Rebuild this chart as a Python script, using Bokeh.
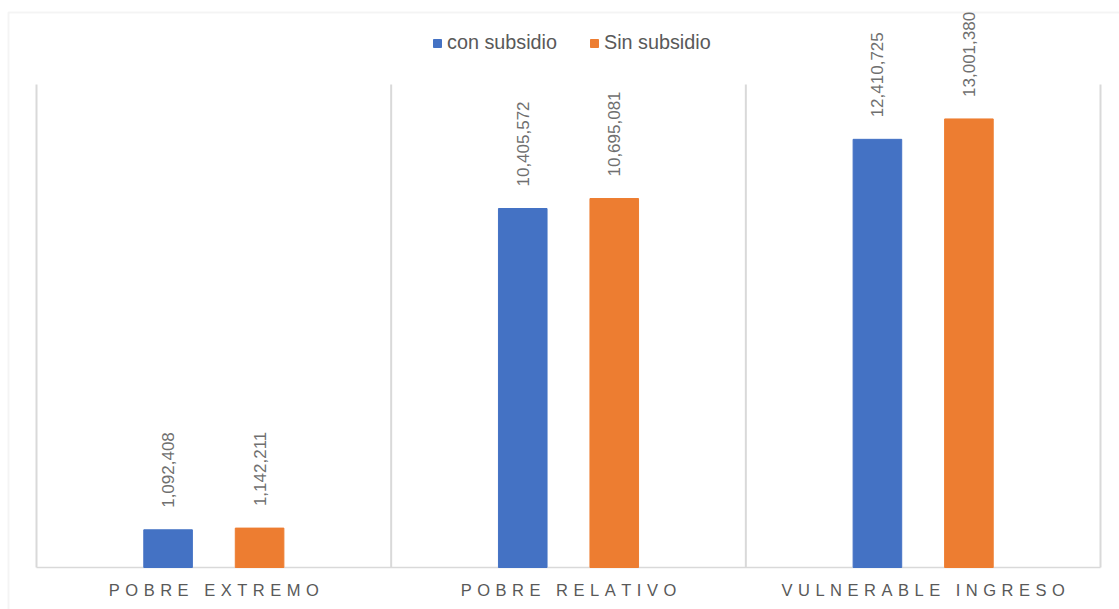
from bokeh.plotting import figure
from bokeh.models import (ColumnDataSource, Legend, LegendItem,
                          BoxAnnotation, Range1d)
from bokeh.transform import dodge
from bokeh.core.properties import value
from bokeh.embed import file_html
from bokeh.resources import INLINE
import math

categories = ["POBRE EXTREMO", "POBRE RELATIVO", "VULNERABLE INGRESO"]
series_names = ["con subsidio", "Sin subsidio"]
con_subsidio = [1092408, 10405572, 12410725]
sin_subsidio = [1142211, 10695081, 13001380]
y_max = 14000000

BLUE = "#4472C4"
ORANGE = "#ED7D31"
GRAY_TXT = "#595959"
LBL_TXT = "#6F6F6F"
GRID = "#D9D9D9"
FONT = "Liberation Sans"

# layout (pixels)
W_PX, H_PX = 1119, 609
PLOT_L, PLOT_R, PLOT_T, PLOT_B = 36, 1100, 84, 567
BORDER_L, BORDER_T = 8, 12

n = len(categories)
u_x = (PLOT_R - PLOT_L) / n
u_y = (PLOT_B - PLOT_T) / y_max
x_start = -PLOT_L / u_x
x_end = n + (W_PX - PLOT_R) / u_x
y_start = -(H_PX - PLOT_B) / u_y
y_end = y_max + PLOT_T / u_y

centers = [i + 0.5 for i in range(n)]
src = ColumnDataSource(dict(
    x=centers,
    cat=["\u2004".join(list(c)) for c in categories],
    zero=[0] * n,
    con=con_subsidio,
    sin=sin_subsidio,
    con_lbl=["{:,}".format(v) for v in con_subsidio],
    sin_lbl=["{:,}".format(v) for v in sin_subsidio],
))

p = figure(width=W_PX, height=H_PX, output_backend="svg", toolbar_location=None,
           x_range=Range1d(x_start, x_end), y_range=Range1d(y_start, y_end),
           x_axis_location=None, y_axis_location=None,
           min_border=0)
p.outline_line_color = None
p.grid.visible = False
p.background_fill_color = "white"
p.border_fill_color = "white"

# chart border (extends past the right and bottom edges)
border = BoxAnnotation(left=x_start + BORDER_L / u_x, top=y_end - BORDER_T / u_y,
                       right=x_end + 1, bottom=y_start - y_max,
                       fill_alpha=0, line_color=GRID, line_width=2, level="underlay")
p.add_layout(border)

# category separators and baseline
bounds = list(range(n + 1))
p.segment(x0=bounds, x1=bounds, y0=[0] * (n + 1), y1=[y_max] * (n + 1),
          line_color=GRID, line_width=2)
p.segment(x0=[0], x1=[n], y0=[0], y1=[0], line_color=GRID, line_width=1.5)

OFF = 0.129
W = 0.137
r1 = p.vbar(x=dodge("x", -OFF, range=p.x_range), top="con", width=W, source=src,
            fill_color=BLUE, line_color=BLUE)
r2 = p.vbar(x=dodge("x", OFF, range=p.x_range), top="sin", width=W, source=src,
            fill_color=ORANGE, line_color=ORANGE)

for col, ycol, off in (("con_lbl", "con", -OFF), ("sin_lbl", "sin", OFF)):
    p.text(x=dodge("x", off, range=p.x_range), y=ycol, text=col, source=src,
           angle=math.pi / 2, text_align="left", text_baseline="middle",
           y_offset=-22, text_font=value(FONT), text_font_size="17px",
           text_color=LBL_TXT)

# category labels
p.text(x="x", y="zero", text="cat", source=src, text_align="center",
       text_baseline="top", y_offset=13, text_font=value(FONT),
       text_font_size="16.5px", text_color=GRAY_TXT)

legend = Legend(items=[LegendItem(label=series_names[0], renderers=[r1]),
                       LegendItem(label=series_names[1], renderers=[r2])],
                orientation="horizontal", location=(432, 555))
legend.glyph_width = 10
legend.glyph_height = 10
legend.label_standoff = 5
legend.spacing = 32
legend.padding = 0
legend.margin = 0
legend.border_line_color = None
legend.background_fill_alpha = 0
legend.label_text_font = FONT
legend.label_text_font_size = "19.8px"
legend.label_text_color = GRAY_TXT
p.add_layout(legend, "center")

open("out.html", "w").write(file_html(p, INLINE))
